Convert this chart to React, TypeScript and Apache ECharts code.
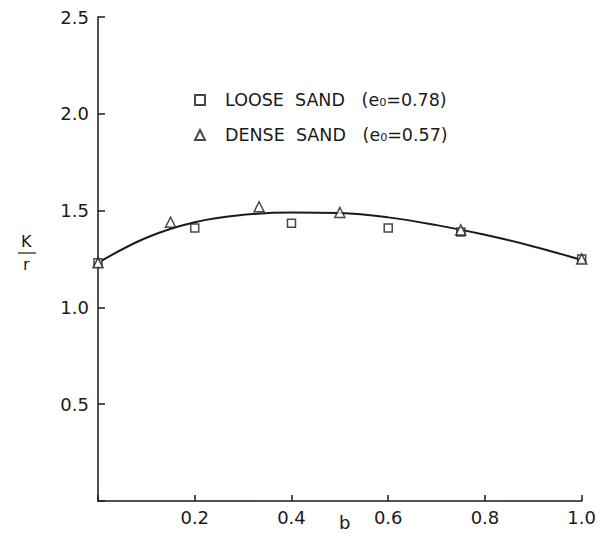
import React, { useEffect, useRef } from "react";
import * as echarts from "echarts";

const xTicks = [0.2, 0.4, 0.6, 0.8, 1.0];
const yTicks = [0.5, 1.0, 1.5, 2.0, 2.5];

const looseSandName = "LOOSE  SAND   (e\u2080=0.78)";
const denseSandName = "DENSE  SAND   (e\u2080=0.57)";

const looseSand: [number, number][] = [
  [0, 1.23],
  [0.2, 1.41],
  [0.4, 1.435],
  [0.6, 1.41],
  [0.75, 1.39],
  [1.0, 1.25],
];

const denseSand: [number, number][] = [
  [0, 1.23],
  [0.15, 1.44],
  [0.333, 1.52],
  [0.5, 1.49],
  [0.75, 1.4],
  [1.0, 1.25],
];

const fittedCurve: [number, number][] = [
  [0, 1.23],
  [0.1, 1.36],
  [0.2, 1.44],
  [0.3, 1.478],
  [0.4, 1.49],
  [0.5, 1.487],
  [0.6, 1.465],
  [0.7, 1.425],
  [0.8, 1.375],
  [0.9, 1.315],
  [1.0, 1.245],
];

const FONT = "DejaVu Sans";
const INK = "#1a1a1a";

export default function App() {
  const ref = useRef<HTMLDivElement>(null);
  useEffect(() => {
    if (!ref.current) return;
    const chart = echarts.init(ref.current, null, { renderer: "svg" });
    chart.setOption({
      animation: false,
      backgroundColor: "#ffffff",
      grid: { left: 90, top: 7, right: 15, bottom: 35, containLabel: false },
      xAxis: {
        type: "value",
        min: 0,
        max: 1.0,
        interval: 0.2,
        axisLine: { show: true, lineStyle: { color: INK, width: 1.5 } },
        axisTick: { show: true, inside: true, length: 6, lineStyle: { color: INK, width: 1.5 } },
        splitLine: { show: false },
        axisLabel: {
          color: INK,
          fontFamily: FONT,
          fontSize: 18,
          margin: 7,
          formatter: (v: number) => (xTicks.some((t) => Math.abs(t - v) < 1e-6) ? v.toFixed(1) : ""),
        },
      },
      yAxis: {
        type: "value",
        min: 0,
        max: 2.5,
        interval: 0.5,
        axisLine: { show: true, lineStyle: { color: INK, width: 1.5 } },
        axisTick: { show: true, inside: true, length: 7, lineStyle: { color: INK, width: 1.5 } },
        splitLine: { show: false },
        axisLabel: {
          color: INK,
          fontFamily: FONT,
          fontSize: 18,
          margin: 9,
          formatter: (v: number) => (yTicks.some((t) => Math.abs(t - v) < 1e-6) ? v.toFixed(1) : ""),
        },
      },
      legend: {
        orient: "vertical",
        left: 181,
        top: 78,
        itemWidth: 10,
        itemHeight: 10,
        itemGap: 17,
        data: [looseSandName, denseSandName],
        textStyle: { color: INK, fontFamily: FONT, fontSize: 17.5, padding: [0, 0, 0, 15] },
      },
      graphic: [
        { type: "text", left: 13, top: 225, style: { text: "K", font: `16px ${FONT}`, fill: INK } },
        { type: "line", shape: { x1: 10, y1: 245, x2: 28, y2: 245 }, style: { stroke: INK, lineWidth: 1.2 } },
        { type: "text", left: 15, top: 248, style: { text: "r", font: `16px ${FONT}`, fill: INK } },
        { type: "text", left: 331, top: 505, style: { text: "b", font: `18px ${FONT}`, fill: INK } },
      ],
      series: [
        {
          type: "line",
          name: "fit",
          data: fittedCurve,
          smooth: 0.4,
          showSymbol: false,
          lineStyle: { color: INK, width: 2 },
          silent: true,
          z: 1,
        },
        {
          type: "scatter",
          name: looseSandName,
          data: looseSand,
          symbol: "rect",
          symbolSize: 8,
          itemStyle: { color: "#ffffff", borderColor: INK, borderWidth: 1.5 },
          z: 3,
        },
        {
          type: "scatter",
          name: denseSandName,
          data: denseSand,
          symbol: "triangle",
          symbolSize: 10,
          itemStyle: { color: "#ffffff", borderColor: INK, borderWidth: 1.5 },
          z: 4,
        },
      ],
    });
    return () => chart.dispose();
  }, []);
  return <div ref={ref} style={{ width: 591, height: 528 }} />;
}
